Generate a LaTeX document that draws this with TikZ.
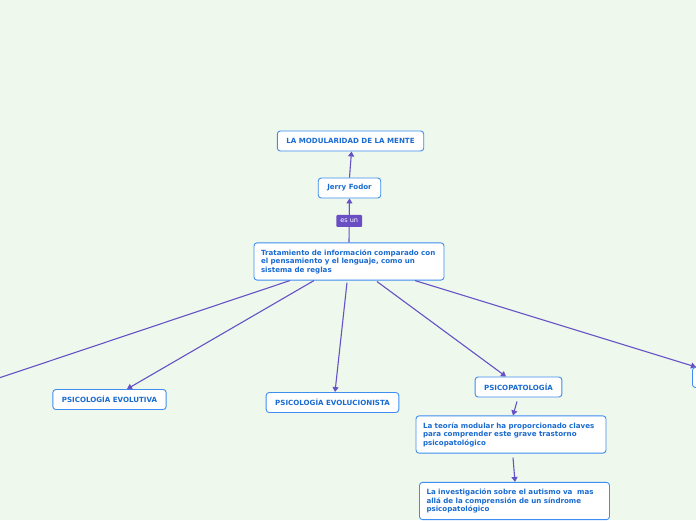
\documentclass[tikz,border=0pt]{standalone}
\usepackage{fontspec}
\setmainfont{DejaVu Sans}
\usetikzlibrary{arrows.meta,calc}

\definecolor{bgcol}{HTML}{EEF8EC}
\definecolor{boxline}{HTML}{3D8EF0}
\definecolor{boxtext}{HTML}{1A6BD0}
\definecolor{linkcol}{HTML}{6652C6}
\definecolor{lblcol}{HTML}{6A4FC4}

\tikzset{
  box/.style={draw=boxline, fill=white, line width=0.9pt, rounded corners=3pt,
    text=boxtext, font=\fontsize{7.1}{8.5}\selectfont\bfseries,
    inner xsep=9pt, inner ysep=5pt, minimum height=20pt},
  longbox/.style={box, align=left, text width=176pt, inner xsep=7pt, inner ysep=6.5pt},
  link/.style={draw=linkcol, line width=1.1pt, -{Triangle[length=5pt,width=6pt]}},
  lbl/.style={fill=lblcol, text=white, rounded corners=1pt,
    font=\fontsize{6.5}{7}\selectfont, inner xsep=4pt, inner ysep=2pt, minimum height=12pt}
}

\begin{document}
\begin{tikzpicture}[x=1pt,y=-1pt]
        \fill[bgcol] (0,0) rectangle (696,520);
        \useasboundingbox (0,0) rectangle (696,520);
        \clip (0,0) rectangle (696,520);

        \node[box] (modularidad) at (350.5,141) {LA MODULARIDAD DE LA MENTE};
        \node[box] (fodor) at (349.5,188) {Jerry Fodor};
        \node[longbox] (tratamiento) at (349,261.5) {Tratamiento de información comparado con\\el pensamiento y el lenguaje, como un\\sistema de reglas};

        \node[box] (evolutiva) at (109.5,399.5) {PSICOLOGÍA EVOLUTIVA};
        \node[box] (evolucionista) at (332.5,402.5) {PSICOLOGÍA EVOLUCIONISTA};
        \node[box] (psicopatologia) at (518.5,387) {PSICOPATOLOGÍA};
        \node[longbox] (teoria) at (511,434.5) {La teoría modular ha proporcionado claves\\para comprender este grave trastorno\\psicopatológico};
        \node[longbox] (autismo) at (514.5,501) {La investigación sobre el autismo va\ \ mas\\allá de la comprensión de un síndrome\\psicopatológico};
        \node[box, anchor=north west, minimum width=60pt] (derecha) at (692,367) {};
        \coordinate (izquierda) at (-10,381);

        % centre up to the title
        \draw[draw=linkcol, line width=1.1pt] (tratamiento.north) -- node[lbl] (esun) {es un} ([yshift=-1pt]fodor.south);
        \draw[link] (esun) -- (fodor.south);
        \draw[link] (fodor.north) -- ([xshift=1pt]modularidad.south);

        % centre down to the branches
        \draw[draw=linkcol, line width=1.1pt] ([xshift=-59pt]tratamiento.south) -- (izquierda);
        \draw[link] ([xshift=-35pt]tratamiento.south) -- ([xshift=17.5pt]evolutiva.north);
        \draw[link] ([xshift=-2pt,yshift=-2pt]tratamiento.south) -- ([xshift=2.5pt]evolucionista.north);
        \draw[link] ([xshift=28pt,yshift=-1pt]tratamiento.south) -- ([xshift=-12.5pt]psicopatologia.north);
        \draw[link] ([xshift=66pt]tratamiento.south) -- ([xshift=4pt]derecha.north west);

        \draw[link] ([xshift=-1.5pt,yshift=-4pt]psicopatologia.south) -- ([xshift=2pt]teoria.north);
        \draw[link] ([xshift=2pt,yshift=-4pt]teoria.south) -- ([xshift=0.5pt]autismo.north);
\end{tikzpicture}
\end{document}
